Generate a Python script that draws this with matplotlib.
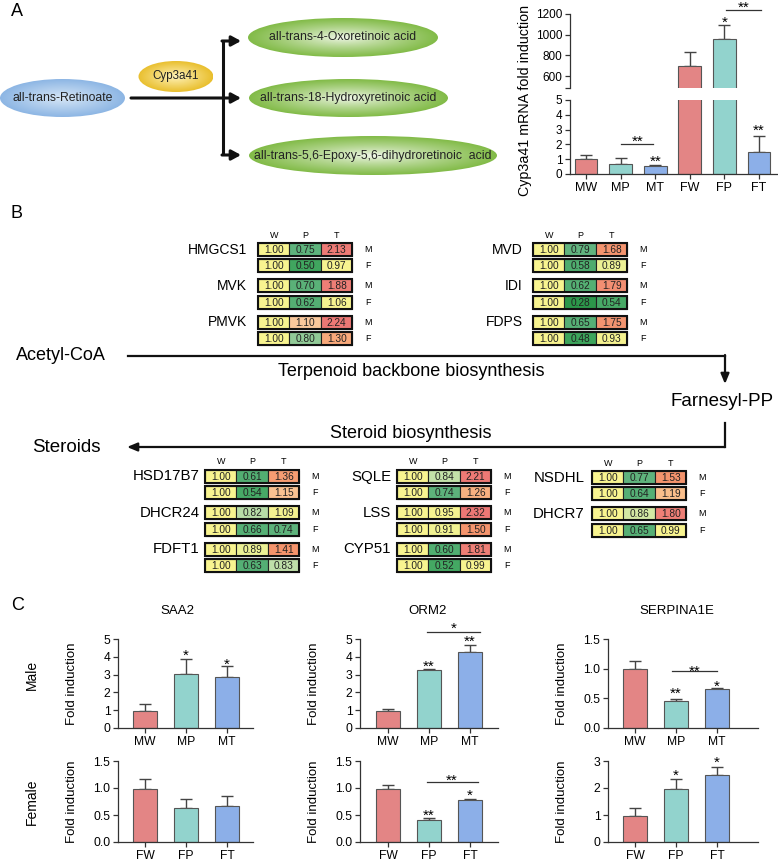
import numpy as np
import matplotlib
matplotlib.use("Agg")
import matplotlib.pyplot as plt
from matplotlib.patches import Ellipse, Rectangle
from matplotlib.colors import LinearSegmentedColormap, Normalize, to_rgb
from matplotlib import transforms

plt.rcParams['font.family'] = ['Liberation Sans', 'DejaVu Sans']

## DATA ########################################################################

# Panel A: Cyp3a41 mRNA
cyp_groups = ['MW', 'MP', 'MT', 'FW', 'FP', 'FT']
cyp_mean = [0.99, 0.68, 0.54, 700, 956, 1.46]
cyp_err = [0.27, 0.40, 0.09, 128, 138, 1.10]

# Panel B: fold changes (W, P, T), one list per gene row (M then F)
terp1_genes = ['HMGCS1', 'MVK', 'PMVK']
terp1_male = [[1.00, 0.75, 2.13], [1.00, 0.70, 1.88], [1.00, 1.10, 2.24]]
terp1_female = [[1.00, 0.50, 0.97], [1.00, 0.62, 1.06], [1.00, 0.80, 1.30]]

terp2_genes = ['MVD', 'IDI', 'FDPS']
terp2_male = [[1.00, 0.79, 1.68], [1.00, 0.62, 1.79], [1.00, 0.65, 1.75]]
terp2_female = [[1.00, 0.58, 0.89], [1.00, 0.28, 0.54], [1.00, 0.48, 0.93]]

ster1_genes = ['HSD17B7', 'DHCR24', 'FDFT1']
ster1_male = [[1.00, 0.61, 1.36], [1.00, 0.82, 1.09], [1.00, 0.89, 1.41]]
ster1_female = [[1.00, 0.54, 1.15], [1.00, 0.66, 0.74], [1.00, 0.63, 0.83]]

ster2_genes = ['SQLE', 'LSS', 'CYP51']
ster2_male = [[1.00, 0.84, 2.21], [1.00, 0.95, 2.32], [1.00, 0.60, 1.81]]
ster2_female = [[1.00, 0.74, 1.26], [1.00, 0.91, 1.50], [1.00, 0.52, 0.99]]

ster3_genes = ['NSDHL', 'DHCR7']
ster3_male = [[1.00, 0.77, 1.53], [1.00, 0.86, 1.80]]
ster3_female = [[1.00, 0.64, 1.19], [1.00, 0.65, 0.99]]

# Panel C
male_groups = ['MW', 'MP', 'MT']
female_groups = ['FW', 'FP', 'FT']
saa2_male = [0.97, 3.03, 2.86]
saa2_male_err = [0.40, 0.83, 0.60]
saa2_female = [0.99, 0.63, 0.67]
saa2_female_err = [0.17, 0.17, 0.18]
orm2_male = [0.98, 3.25, 4.27]
orm2_male_err = [0.11, 0.09, 0.39]
orm2_female = [0.99, 0.41, 0.78]
orm2_female_err = [0.06, 0.03, 0.01]
serp_male = [0.99, 0.45, 0.65]
serp_male_err = [0.14, 0.04, 0.03]
serp_female = [0.96, 1.97, 2.50]
serp_female_err = [0.31, 0.38, 0.29]

bar_colors = ['#E38585', '#92D3CD', '#8CAFE8']

## HELPERS #####################################################################

W, H = 778, 860
fig = plt.figure(figsize=(7.78, 8.6), dpi=100)

canvas = fig.add_axes([0, 0, 1, 1])
canvas.axis('off')


def px_axes(left, top, right, bottom):
    ax = fig.add_axes([left / W, 1 - bottom / H, (right - left) / W, (bottom - top) / H])
    ax.set_facecolor('none')
    return ax


def grad_ellipse(cx, cy, w, h, edge, center, text, fs=8.8, power=1.0):
    e = Ellipse((cx, cy), w, h, facecolor='none', edgecolor='none')
    canvas.add_patch(e)
    xx, yy = np.meshgrid(np.linspace(-1, 1, 300), np.linspace(-1, 1, 80))
    t = np.clip(np.sqrt(xx ** 2 + yy ** 2), 0, 1) ** power
    img = (1 - t)[..., None] * np.array(to_rgb(center)) + t[..., None] * np.array(to_rgb(edge))
    im = canvas.imshow(img, extent=(cx - w / 2, cx + w / 2, cy + h / 2, cy - h / 2),
                       interpolation='bilinear', aspect='auto', zorder=1)
    im.set_clip_path(e)
    canvas.text(cx, cy, text, ha='center', va='center', fontsize=fs, color='#222222', zorder=3)


def arrow(x0, y0, x1, y1, lw, hl, hw):
    canvas.annotate('', xy=(x1, y1), xytext=(x0, y0),
                    arrowprops=dict(arrowstyle='-|>,head_length=%g,head_width=%g' % (hl, hw),
                                    color='#111111', lw=lw, shrinkA=0, shrinkB=0))


# colour nodes given as fold values, mapped onto the 0.25 - 2.40 range
heat_lo, heat_hi = 0.25, 2.40
heat_nodes = [(0.25, '#2A9548'), (0.48, '#3DA55C'), (0.60, '#52AE72'), (0.795, '#62B47F'),
              (0.80, '#B0D9A6'), (0.85, '#C8E3AA'), (0.87, '#E6F098'), (0.92, '#F5F290'),
              (1.00, '#F8F490'), (1.095, '#F5F290'), (1.10, '#F9C89C'), (1.20, '#F9BC88'),
              (1.30, '#F8AA7C'), (1.40, '#F5946C'), (1.79, '#F39470'), (1.80, '#EE7F76'),
              (2.40, '#EC7675')]
heat_cmap = LinearSegmentedColormap.from_list(
    'fold', [((v - heat_lo) / (heat_hi - heat_lo), c) for v, c in heat_nodes])
heat_norm = Normalize(heat_lo, heat_hi)

CELL_W, ROW_H, ROW_STEP, GENE_STEP = 31.5, 13, 16.3, 36.4


def heat_block(x0, y0, genes, male, female, gap, gfs):
    for k, lab in enumerate(['W', 'P', 'T']):
        canvas.text(x0 + (k + 0.5) * CELL_W, y0 - 8, lab, ha='center', va='center', fontsize=6.5)
    for g, gene in enumerate(genes):
        gy = y0 + g * GENE_STEP
        canvas.text(x0 - gap, gy + ROW_H / 2, gene, ha='right', va='center', fontsize=gfs)
        for r, (row, sex) in enumerate([(male[g], 'M'), (female[g], 'F')]):
            ry = gy + r * ROW_STEP
            for k, v in enumerate(row):
                canvas.add_patch(Rectangle((x0 + k * CELL_W, ry), CELL_W, ROW_H,
                                           facecolor=heat_cmap(heat_norm(v)),
                                           edgecolor='#222222', lw=0.8, zorder=2))
                canvas.text(x0 + (k + 0.5) * CELL_W, ry + ROW_H / 2 + 0.5, '%.2f' % v,
                            ha='center', va='center', fontsize=7.3, color='#222222', zorder=3)
            canvas.add_patch(Rectangle((x0, ry), 3 * CELL_W, ROW_H, facecolor='none',
                                       edgecolor='#111111', lw=1.5, zorder=4))
            canvas.text(x0 + 3 * CELL_W + 16, ry + ROW_H / 2, sex, ha='center', va='center',
                        fontsize=6.5)


def style_axis(ax, fs=8.5):
    for s in ['top', 'right']:
        ax.spines[s].set_visible(False)
    for s in ['left', 'bottom']:
        ax.spines[s].set_linewidth(0.9)
        ax.spines[s].set_color('#333333')
    ax.tick_params(length=3.5, width=0.9, color='#333333', labelsize=fs, pad=2)


def bars(ax, labels, means, errs, colors, width):
    x = np.arange(len(labels))
    ax.bar(x, means, width=width, color=colors, edgecolor='#555555', linewidth=0.8, zorder=2)
    ax.errorbar(x, means, yerr=[np.zeros(len(x)), errs], fmt='none', ecolor='#444444',
                elinewidth=1.0, capsize=4, capthick=1.0, zorder=1)
    ax.set_xticks(x)
    ax.set_xticklabels(labels)


def stars(ax, x, y, s, fs=11):
    tr = transforms.offset_copy(ax.transData, fig=fig, y=-0.57 * fs, units='points')
    ax.text(x, y, s, ha='center', va='baseline', fontsize=fs, transform=tr, clip_on=False)


def bracket(ax, x0, x1, y):
    ax.plot([x0, x1], [y, y], color='#333333', lw=0.9, clip_on=False)


def xlim_px(ax_left, ax_right, first_center, step):
    return (-(first_center - ax_left) / step, (ax_right - first_center) / step)


## PANEL A #####################################################################

canvas.text(17, 12, 'A', ha='center', va='center', fontsize=13)
grad_ellipse(62.5, 98, 125, 38, '#8DB6E4', '#D6E6F6', 'all-trans-Retinoate')
grad_ellipse(176, 76.5, 75, 31, '#E9BF2E', '#FFF2B8', 'Cyp3a41', fs=8.4)
grad_ellipse(343, 37.5, 190, 39, '#82BB48', '#F4F9EE', 'all-trans-4-Oxoretinoic acid', power=0.8)
grad_ellipse(348.5, 98, 199, 38, '#82BB48', '#F4F9EE', 'all-trans-18-Hydroxyretinoic acid',
             power=0.8)
grad_ellipse(373, 155.5, 248, 39, '#82BB48', '#F4F9EE',
             'all-trans-5,6-Epoxy-5,6-dihydroretinoic  acid', power=0.8)

canvas.plot([223, 223], [41, 155], color='#111111', lw=2.2, solid_capstyle='butt')
arrow(131, 98, 241, 98, 2.2, 0.55, 0.3)
arrow(222, 41, 241, 41, 2.2, 0.55, 0.3)
arrow(222, 155, 241, 155, 2.2, 0.55, 0.3)

cyp_cols = bar_colors * 2
cyp_xlim = xlim_px(570, 778, 586, 34.6)

ax_lo = px_axes(570, 100, 778, 174)
bars(ax_lo, cyp_groups, cyp_mean, cyp_err, cyp_cols, 0.66)
style_axis(ax_lo)
ax_lo.tick_params(axis='x', labelsize=9)
ax_lo.set_ylim(0, 5)
ax_lo.set_yticks([0, 1, 2, 3, 4, 5])
ax_lo.set_xlim(*cyp_xlim)
bracket(ax_lo, 1.0, 1.95, 2.02)
stars(ax_lo, 1.5, 2.5, '**')
stars(ax_lo, 2, 1.17, '**')
stars(ax_lo, 5, 3.23, '**')

ax_hi = px_axes(570, 14, 778, 88)
bars(ax_hi, cyp_groups, cyp_mean, cyp_err, cyp_cols, 0.66)
style_axis(ax_hi)
ax_hi.spines['bottom'].set_visible(False)
ax_hi.tick_params(axis='x', bottom=False, labelbottom=False)
ax_hi.set_ylim(484, 1200)
ax_hi.set_yticks([484, 600, 800, 1000, 1200])
ax_hi.set_yticklabels(['', '600', '800', '1000', '1200'])
ax_hi.set_xlim(*cyp_xlim)
stars(ax_hi, 4, 1158, '*')
bracket(ax_hi, 4.05, 5.05, 1238)
stars(ax_hi, 4.55, 1303, '**')

fig.text(525 / W, 1 - 100 / H, 'Cyp3a41 mRNA fold induction', rotation=90,
         ha='center', va='center', fontsize=10.3)

## PANEL B #####################################################################

canvas.text(17, 213, 'B', ha='center', va='center', fontsize=13)
heat_block(258, 243, terp1_genes, terp1_male, terp1_female, 11, 10)
heat_block(533, 243, terp2_genes, terp2_male, terp2_female, 10, 10)
heat_block(205, 470, ster1_genes, ster1_male, ster1_female, 5, 10.8)
heat_block(397, 470, ster2_genes, ster2_male, ster2_female, 6, 10.8)
heat_block(592, 471, ster3_genes, ster3_male, ster3_female, 7, 10.8)

canvas.text(61, 355, 'Acetyl-CoA', ha='center', va='center', fontsize=13)
canvas.plot([128, 725], [356, 356], color='#111111', lw=1.6, solid_capstyle='projecting')
arrow(725, 355, 725, 384, 1.6, 0.6, 0.25)
canvas.text(411, 371, 'Terpenoid backbone biosynthesis', ha='center', va='center', fontsize=13)
canvas.text(722, 402, 'Farnesyl-PP', ha='center', va='center', fontsize=13.5)
canvas.plot([725, 725], [423, 447], color='#111111', lw=1.6, solid_capstyle='projecting')
arrow(725, 447, 127, 447, 1.6, 0.6, 0.25)
canvas.text(411, 433, 'Steroid biosynthesis', ha='center', va='center', fontsize=13)
canvas.text(66, 447, 'Steroids', ha='center', va='center', fontsize=13.5)

## PANEL C #####################################################################

canvas.text(18, 605, 'C', ha='center', va='center', fontsize=13)
canvas.text(32, 675, 'Male', rotation=90, ha='center', va='center', fontsize=10)
canvas.text(32, 802, 'Female', rotation=90, ha='center', va='center', fontsize=10)

panels = [
    # title, title x, left, right, first bar x, male, male err, lim, ticks, decimals, female ...
    ('SAA2', 177, 118, 253, 145, saa2_male, saa2_male_err, (0, 5), [0, 1, 2, 3, 4, 5], False,
     saa2_female, saa2_female_err, (0, 1.5), [0.0, 0.5, 1.0, 1.5], True),
    ('ORM2', 428, 360, 498, 388, orm2_male, orm2_male_err, (0, 5), [0, 1, 2, 3, 4, 5], False,
     orm2_female, orm2_female_err, (0, 1.5), [0.0, 0.5, 1.0, 1.5], True),
    ('SERPINA1E', 677, 608, 758, 635, serp_male, serp_male_err, (0, 1.5), [0.0, 0.5, 1.0, 1.5], True,
     serp_female, serp_female_err, (0, 3), [0, 1, 2, 3], False),
]

c_axes = []
for (title, tx, left, right, x0, m, me, mlim, mt, mfmt, f, fe, flim, ft, ffmt) in panels:
    canvas.text(tx, 611, title, ha='center', va='center', fontsize=9.5)
    axm = px_axes(left, 639, right, 728)
    axf = px_axes(left, 761, right, 842)
    for ax, labs, vals, errs, lim, ticks, fmt in [(axm, male_groups, m, me, mlim, mt, mfmt),
                                                  (axf, female_groups, f, fe, flim, ft, ffmt)]:
        bars(ax, labs, vals, errs, bar_colors, 0.6)
        style_axis(ax, 8.7)
        ax.set_ylim(*lim)
        ax.set_yticks(ticks)
        ax.set_yticklabels(['%.1f' % t if fmt else '%d' % t for t in ticks])
        ax.set_xlim(*xlim_px(left, right, x0, 41))
        ax.set_ylabel('Fold induction', fontsize=9.5)
        ax.yaxis.set_label_coords(-40 / (right - left), 0.5)
    c_axes.append((axm, axf))

(saa_m, saa_f), (orm_m, orm_f), (ser_m, ser_f) = c_axes
stars(saa_m, 1, 4.3, '*')
stars(saa_m, 2, 3.84, '*')

stars(orm_m, 1, 3.73, '**')
stars(orm_m, 2, 5.13, '**')
bracket(orm_m, 0.95, 2.25, 5.41)
stars(orm_m, 1.6, 5.82, '*')
stars(orm_f, 1, 0.57, '**')
stars(orm_f, 2, 0.94, '*')
bracket(orm_f, 0.95, 2.2, 1.12)
stars(orm_f, 1.55, 1.23, '**')

stars(ser_m, 1, 0.65, '**')
stars(ser_m, 2, 0.78, '*')
bracket(ser_m, 0.9, 2.0, 0.955)
stars(ser_m, 1.45, 1.03, '**')
stars(ser_f, 1, 2.63, '*')
stars(ser_f, 2, 3.12, '*')

canvas.set_xlim(0, W)
canvas.set_ylim(H, 0)

fig.savefig('out.png', dpi=100)
